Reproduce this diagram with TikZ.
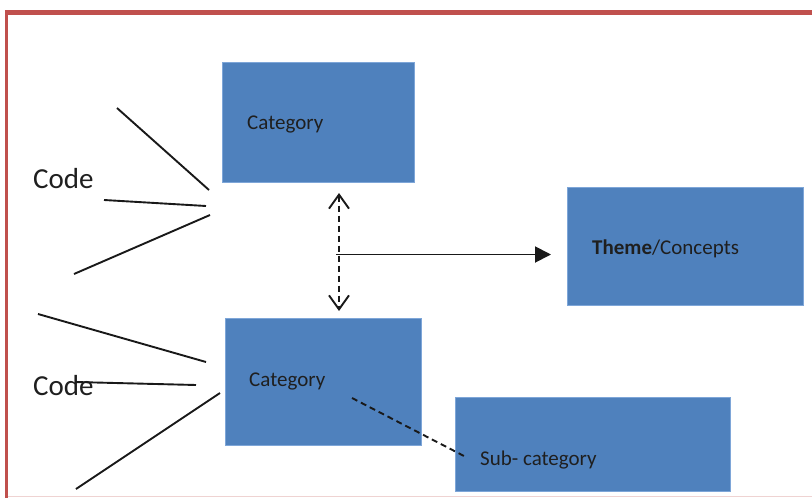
\documentclass[tikz,border=0pt]{standalone}
\usepackage{fontspec}
\setmainfont{Carlito}
\usetikzlibrary{arrows.meta}
\definecolor{boxblue}{HTML}{4F81BD}
\definecolor{boxedge}{HTML}{7EA6D8}
\definecolor{framered}{HTML}{C0504D}
\definecolor{txt}{HTML}{1F1F1F}
\tikzset{
  catbox/.style={draw=boxedge, line width=0.8pt, fill=boxblue, anchor=north west, inner sep=0pt},
  boxtext/.style={anchor=base west, inner sep=0pt, font=\fontsize{21}{24}\selectfont, text=txt},
  codetext/.style={anchor=base west, inner sep=0pt, font=\fontsize{29}{32}\selectfont, text=txt},
  fanline/.style={line width=1.9pt, black!90},
  dashline/.style={line width=1.9pt, black!90, dash pattern=on 6pt off 4pt},
}
\begin{document}
\begin{tikzpicture}[x=1pt,y=-1pt]
\useasboundingbox (0,0) rectangle (812,498);
% frame
\draw[framered, line width=5pt] (4.8,12.5) -- (812,12.5);
\draw[framered, line width=3.3pt] (6.5,10) -- (6.5,498);
\draw[framered!25, line width=1.5pt] (8,496.5) -- (812,496.5);
% boxes
\node[catbox, minimum width=192pt, minimum height=120pt] (cat1) at (222,62) {};
\node[catbox, minimum width=196pt, minimum height=127pt] (cat2) at (225,318) {};
\node[catbox, minimum width=236pt, minimum height=118pt] (theme) at (567,187) {};
\node[catbox, minimum width=275pt, minimum height=94pt] (sub) at (455,397) {};
\node[boxtext] (t1) at (247,129) {Category};
\node[boxtext] (t2) at (249,386) {Category};
\node[boxtext] (t3) at (592,254) {\textbf{Theme}/Concepts};
\node[boxtext] (t4) at (480,465) {Sub- category};
% code labels
\node[codetext] (code1) at (33,188) {Code};
\node[codetext] (code2) at (33,395) {Code};
% fan lines
\coordinate (a1) at (117,108); \coordinate (a2) at (209,190);
\coordinate (b1) at (104,200); \coordinate (b2) at (206,206);
\coordinate (c1) at (74,274);  \coordinate (c2) at (210,215);
\draw[fanline] (a1) -- (a2);
\draw[fanline] (b1) -- (b2);
\draw[fanline] (c1) -- (c2);
\coordinate (d1) at (38,314); \coordinate (d2) at (206,362);
\coordinate (e1) at (75,382); \coordinate (e2) at (196,385);
\coordinate (f1) at (76,489); \coordinate (f2) at (220,393);
\draw[fanline] (d1) -- (d2);
\draw[fanline] (e1) -- (e2);
\draw[fanline] (f1) -- (f2);
% arrows
\coordinate (up) at (339,193);
\coordinate (dn) at (339,311);
\coordinate (mid) at (336,254.5);
\coordinate (tip) at (551,254.5);
\draw[dashline, {Straight Barb[length=14pt,width=20pt]}-{Straight Barb[length=14pt,width=20pt]}] (up) -- (dn);
\draw[fanline, -{Triangle[length=16pt,width=16pt]}] (mid) -- (tip);
\coordinate (s1) at (352,398);
\coordinate (s2) at (464,456);
\draw[dashline] (s1) -- (s2);
\end{tikzpicture}
\end{document}
